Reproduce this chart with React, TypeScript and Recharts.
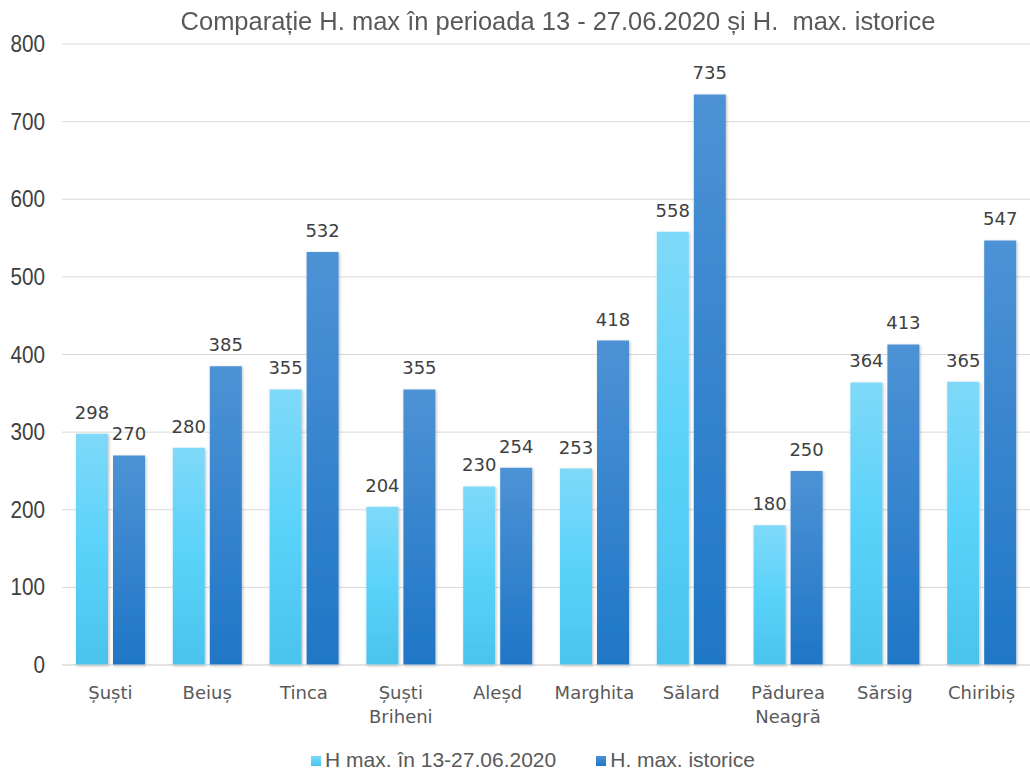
import React from "react"
import {
  Bar,
  BarChart,
  CartesianGrid,
  LabelList,
  Legend,
  XAxis,
  YAxis,
} from "recharts"

const stations = [
  "Șuști",
  "Beiuș",
  "Tinca",
  "Șuști Briheni",
  "Aleșd",
  "Marghita",
  "Sălard",
  "Pădurea Neagră",
  "Sărsig",
  "Chiribiș",
]
const hMaxRecent = [298, 280, 355, 204, 230, 253, 558, 180, 364, 365]
const hMaxHistoric = [270, 385, 532, 355, 254, 418, 735, 250, 413, 547]
const yTicks = [0, 100, 200, 300, 400, 500, 600, 700, 800]

const seriesRecent = "H max. în 13-27.06.2020"
const seriesHistoric = "H. max. istorice"

const data = stations.map((name, i) => ({
  name,
  recent: hMaxRecent[i],
  historic: hMaxHistoric[i],
}))

const CategoryTick = (props: any) => {
  const { x, y, payload } = props
  const lines = String(payload.value).split(" ")
  return (
    <g transform={`translate(${x},${y})`}>
      {lines.map((line: string, i: number) => (
        <text
          key={i}
          x={0}
          y={0}
          dy={26 + i * 24}
          textAnchor="middle"
          fill="#595959"
          fontSize={18}
          fontFamily="DejaVu Sans"
        >
          {line}
        </text>
      ))}
    </g>
  )
}

const ValueTick = (props: any) => {
  const { x, y, payload } = props
  return (
    <text
      transform={`translate(${x},${y}) scale(0.9,1)`}
      x={0}
      y={0}
      dy={8}
      textAnchor="end"
      fill="#404040"
      fontSize={23}
      fontFamily="Liberation Sans"
    >
      {payload.value}
    </text>
  )
}

export default function App() {
  return (
    <div style={{ position: "absolute", left: 0, top: 0, width: 1030, height: 772, background: "#fff" }}>
      <div
        style={{
          position: "absolute",
          left: 43,
          top: 6,
          width: 1030,
          textAlign: "center",
          fontFamily: "Liberation Sans",
          fontSize: 26,
          color: "#595959",
          whiteSpace: "pre",
          transform: "scaleX(0.98)",
        }}
      >
        {"Comparație H. max în perioada 13 - 27.06.2020 și H.  max. istorice"}
      </div>
      <BarChart
        width={1030}
        height={772}
        data={data}
        margin={{ top: 44, right: 0, left: 0, bottom: 0 }}
        barSize={32}
        barGap={5}
      >
        <defs>
          <linearGradient id="gradRecent" x1="0" y1="0" x2="0" y2="1">
            <stop offset="0%" stopColor="#7fd9f8" />
            <stop offset="50%" stopColor="#5ad2fa" />
            <stop offset="100%" stopColor="#4bc3ec" />
          </linearGradient>
          <linearGradient id="gradHistoric" x1="0" y1="0" x2="0" y2="1">
            <stop offset="0%" stopColor="#4d92d5" />
            <stop offset="100%" stopColor="#1f76c6" />
          </linearGradient>
          <filter id="barShadow" x="-20%" y="-5%" width="140%" height="110%">
            <feDropShadow dx="1" dy="1" stdDeviation="1.5" floodColor="#000" floodOpacity="0.25" />
          </filter>
        </defs>
        <CartesianGrid vertical={false} stroke="#d9d9d9" />
        <XAxis
          dataKey="name"
          axisLine={{ stroke: "#d9d9d9" }}
          tickLine={false}
          interval={0}
          height={77}
          tick={<CategoryTick />}
        />
        <YAxis
          domain={[0, 800]}
          ticks={yTicks}
          axisLine={false}
          tickLine={false}
          tickSize={0}
          tickMargin={17}
          width={62}
          tick={<ValueTick />}
        />
        <Legend
          verticalAlign="bottom"
          height={30}
          iconType="square"
          iconSize={10}
          wrapperStyle={{ fontFamily: "Liberation Sans", fontSize: 21, bottom: -6, paddingLeft: 38 }}
          formatter={(value: string) => <span style={{ color: "#595959", marginRight: 30 }}>{value}</span>}
        />
        <Bar
          dataKey="recent"
          name={seriesRecent}
          fill="url(#gradRecent)"
          filter="url(#barShadow)"
          isAnimationActive={false}
          legendType="square"
        >
          <LabelList dataKey="recent" position="top" offset={15} fill="#404040" fontSize={18} fontFamily="DejaVu Sans" />
        </Bar>
        <Bar
          dataKey="historic"
          name={seriesHistoric}
          fill="url(#gradHistoric)"
          filter="url(#barShadow)"
          isAnimationActive={false}
          legendType="square"
        >
          <LabelList dataKey="historic" position="top" offset={15} fill="#404040" fontSize={18} fontFamily="DejaVu Sans" />
        </Bar>
      </BarChart>
    </div>
  )
}
